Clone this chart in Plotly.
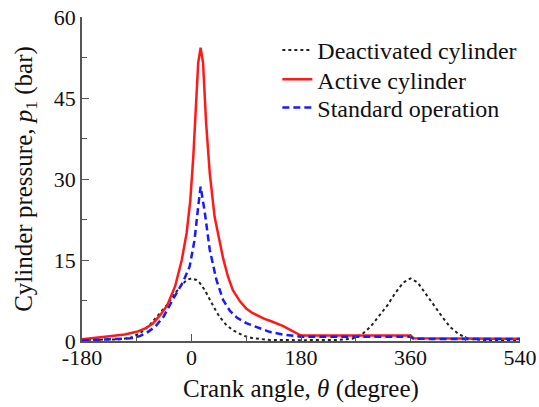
import plotly.graph_objects as go

# Deactivated cylinder
deact_x = [-180, -120, -100, -85, -70, -52, -41, -30, -20, -8, 0, 8, 14, 22, 30, 38, 46, 57, 68, 85, 101, 130, 180,
           240, 264, 280, 294, 308, 322, 335, 348, 360, 372, 384, 398, 412, 425, 439, 455, 480, 540]
deact_y = [0.2, 0.3, 0.6, 1.4, 2.8, 5.2, 6.6, 8.3, 9.9, 11.3, 11.6, 11.3, 10.7, 9.4, 7.6, 6.0, 4.5, 3.0, 2.0, 1.0, 0.5, 0.2, 0.15,
           0.2, 0.4, 1.2, 2.6, 4.5, 6.6, 8.9, 10.8, 11.6, 10.8, 8.9, 6.6, 4.5, 2.6, 1.3, 0.4, 0.2, 0.2]

# Active cylinder
active_x = [-180, -160, -135, -110, -90, -75, -63, -50, -40, -27, -16, -8, -2, 3, 7, 11, 15, 19, 24, 30, 38, 45, 52, 60, 68,
            80, 90, 100, 110, 120, 130, 140, 150, 160, 170, 180, 360, 365, 540]
active_y = [0.3, 0.6, 0.9, 1.2, 1.7, 2.4, 3.3, 5.0, 6.6, 10.1, 15.0, 20.0, 26.0, 34.2, 43.5, 51.5, 54.3, 51.5, 40.4, 31.1, 23.0, 18.8, 15.3, 11.9, 9.4,
            7.3, 6.0, 5.2, 4.6, 4.1, 3.7, 3.3, 2.8, 2.2, 1.6, 1.0, 1.0, 0.5, 0.4]

# Standard operation
std_x = [-180, -150, -120, -100, -85, -74, -60, -46, -30, -14, -3, 5, 11, 15, 22, 30, 41, 52, 63, 75, 90, 110, 128, 150,
         170, 180, 360, 365, 540]
std_y = [0.1, 0.2, 0.3, 0.5, 0.9, 1.5, 2.6, 4.5, 7.8, 10.9, 13.8, 18.7, 24.9, 28.6, 23.7, 16.9, 11.3, 7.6, 5.6, 4.3, 3.3, 2.4, 1.7, 1.2,
         0.9, 0.8, 0.8, 0.4, 0.35]

x_ticks = [-180, 0, 180, 360, 540]
y_ticks = [0, 15, 30, 45, 60]

FONT = "Liberation Serif, Times New Roman, Times, serif"

fig = go.Figure()
fig.add_trace(go.Scatter(x=deact_x, y=deact_y, mode="lines", name="Deactivated cylinder", legend="legend",
                         line=dict(color="#222222", width=2, dash="dot")))
fig.add_trace(go.Scatter(x=active_x, y=active_y, mode="lines", name="Active cylinder", legend="legend2",
                         line=dict(color="#ff1a1a", width=2.5)))
fig.add_trace(go.Scatter(x=std_x, y=std_y, mode="lines", name="Standard operation", legend="legend3",
                         line=dict(color="#1a1aff", width=2.5, dash="7px,4px")))

axis_common = dict(showgrid=False, zeroline=False, showline=True, linecolor="#555555", linewidth=1.5,
                   ticks="inside", ticklen=7, tickwidth=1.2, tickcolor="#555555",
                   tickfont=dict(family=FONT, size=22, color="#111111"),
                   mirror=False, automargin=False)

fig.update_xaxes(range=[-180, 540], tickvals=x_ticks, ticktext=[str(v) for v in x_ticks],
                 minor=dict(dtick=90, tick0=-180, ticks="inside", ticklen=5, tickcolor="#555555", tickwidth=1.2),
                 ticklabelstandoff=-4,
                 title=dict(text="Crank angle, <i>θ</i> (degree)", font=dict(family=FONT, size=25, color="#111111"),
                            standoff=10),
                 **axis_common)
fig.update_yaxes(range=[0, 60], tickvals=y_ticks, ticktext=[str(v) for v in y_ticks],
                 minor=dict(dtick=7.5, tick0=0, ticks="inside", ticklen=5, tickcolor="#555555", tickwidth=1.2),
                 title=dict(text="Cylinder pressure, <i>p</i><sub>1</sub> (bar)",
                            font=dict(family=FONT, size=25, color="#111111"), standoff=14),
                 **axis_common)

leg_common = dict(x=0.446, xanchor="left", yanchor="top", bgcolor="rgba(0,0,0,0)",
                  font=dict(family=FONT, size=24, color="#111111"), itemwidth=30)

fig.update_layout(
    width=539, height=407,
    margin=dict(l=82, r=19, t=17, b=66),
    paper_bgcolor="white", plot_bgcolor="white",
    showlegend=True,
    legend=dict(y=0.966, **leg_common),
    legend2=dict(y=0.876, **leg_common),
    legend3=dict(y=0.789, **leg_common),
)

fig.write_html("out.html")
